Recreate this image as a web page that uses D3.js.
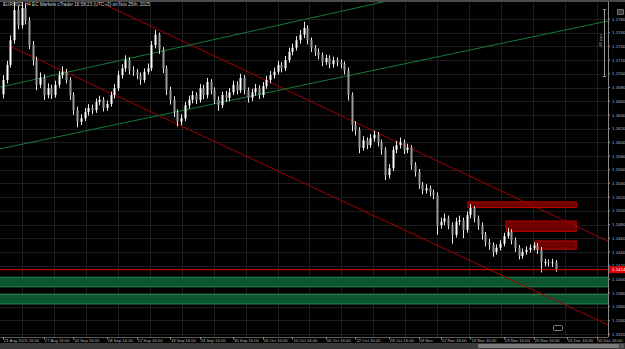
<!DOCTYPE html>
<html><head><meta charset="utf-8">
<script src="https://cdn.jsdelivr.net/npm/d3@7"></script>
<style>html,body{margin:0;padding:0;background:#000;overflow:hidden}text{font-family:"Liberation Sans",Arial,sans-serif}</style>
</head><body><svg id="c" width="625" height="349"></svg>
<script>
const title = "EURUSD, H4 EC Markets cTrader 16:58:23 (UTC+3) on Nov 25th, 2025";
const firstOpen = 1.1670;
const closes = [1.1691,1.1713,1.1749,1.1793,1.1771,1.1796,1.1778,1.1742,1.1720,1.1684,
 1.1694,1.1669,1.1679,1.1669,1.1684,1.1698,1.1703,1.1691,1.1669,1.1647,
 1.1630,1.1635,1.1644,1.1650,1.1647,1.1659,1.1662,1.1650,1.1656,1.1669,
 1.1679,1.1698,1.1708,1.1720,1.1705,1.1703,1.1698,1.1691,1.1703,1.1708,
 1.1742,1.1757,1.1735,1.1708,1.1676,1.1662,1.1644,1.1630,1.1635,1.1654,
 1.1662,1.1669,1.1662,1.1679,1.1669,1.1688,1.1676,1.1662,1.1654,1.1669,
 1.1665,1.1673,1.1684,1.1676,1.1694,1.1676,1.1665,1.1673,1.1679,1.1669,
 1.1682,1.1691,1.1698,1.1703,1.1713,1.1708,1.1720,1.1732,1.1738,1.1749,
 1.1757,1.1767,1.1749,1.1738,1.1732,1.1727,1.1717,1.1723,1.1714,1.1720,
 1.1717,1.1714,1.1705,1.1669,1.1625,1.1618,1.1592,1.1603,1.1596,1.1606,
 1.1611,1.1600,1.1589,1.1552,1.1562,1.1589,1.1596,1.1600,1.1589,1.1592,
 1.1567,1.1557,1.1538,1.1530,1.1533,1.1527,1.1523,1.1479,1.1484,1.1489,
 1.1479,1.1465,1.1484,1.1486,1.1472,1.1494,1.1504,1.1489,1.1479,1.1465,
 1.1454,1.1450,1.1440,1.1446,1.1452,1.1463,1.1469,1.1457,1.1446,1.1434,
 1.1440,1.1443,1.1446,1.1449,1.1443,1.1424,1.1425,1.1424,1.1425,1.1414];
const highs = [1.1698,1.1719,1.1756,1.1805,1.1799,1.1808,1.1802,1.1783,1.1748,1.1725,
 1.1702,1.1699,1.1686,1.1684,1.1690,1.1704,1.1711,1.1707,1.1695,1.1673,
 1.1652,1.1641,1.1650,1.1656,1.1655,1.1664,1.1668,1.1666,1.1661,1.1674,
 1.1685,1.1704,1.1714,1.1727,1.1724,1.1711,1.1707,1.1702,1.1708,1.1715,
 1.1748,1.1764,1.1760,1.1739,1.1712,1.1681,1.1667,1.1648,1.1641,1.1659,
 1.1668,1.1675,1.1673,1.1685,1.1684,1.1694,1.1692,1.1680,1.1667,1.1674,
 1.1675,1.1679,1.1690,1.1689,1.1700,1.1698,1.1680,1.1678,1.1685,1.1683,
 1.1688,1.1697,1.1704,1.1709,1.1719,1.1717,1.1726,1.1738,1.1744,1.1755,
 1.1764,1.1776,1.1771,1.1753,1.1742,1.1737,1.1731,1.1728,1.1727,1.1725,
 1.1724,1.1721,1.1718,1.1709,1.1673,1.1631,1.1622,1.1609,1.1607,1.1612,
 1.1617,1.1615,1.1604,1.1593,1.1568,1.1594,1.1602,1.1607,1.1604,1.1598,
 1.1596,1.1571,1.1561,1.1542,1.1539,1.1537,1.1531,1.1527,1.1490,1.1496,
 1.1493,1.1483,1.1490,1.1493,1.1490,1.1499,1.1510,1.1507,1.1493,1.1483,
 1.1469,1.1459,1.1454,1.1451,1.1457,1.1468,1.1475,1.1473,1.1461,1.1450,
 1.1445,1.1448,1.1451,1.1454,1.1453,1.1447,1.1430,1.1429,1.1430,1.1428];
const lows = [1.1664,1.1686,1.1709,1.1744,1.1765,1.1766,1.1772,1.1736,1.1712,1.1676,
 1.1679,1.1662,1.1664,1.1663,1.1665,1.1680,1.1693,1.1686,1.1662,1.1640,
 1.1622,1.1625,1.1631,1.1639,1.1641,1.1643,1.1654,1.1645,1.1646,1.1652,
 1.1664,1.1675,1.1693,1.1703,1.1699,1.1697,1.1692,1.1684,1.1687,1.1699,
 1.1704,1.1737,1.1729,1.1701,1.1669,1.1655,1.1637,1.1623,1.1625,1.1631,
 1.1649,1.1657,1.1656,1.1658,1.1663,1.1664,1.1670,1.1656,1.1646,1.1650,
 1.1659,1.1660,1.1669,1.1670,1.1672,1.1670,1.1658,1.1660,1.1668,1.1663,
 1.1665,1.1678,1.1686,1.1693,1.1699,1.1702,1.1704,1.1716,1.1727,1.1734,
 1.1744,1.1752,1.1743,1.1732,1.1726,1.1721,1.1711,1.1713,1.1708,1.1709,
 1.1711,1.1708,1.1699,1.1661,1.1616,1.1610,1.1584,1.1588,1.1590,1.1592,
 1.1601,1.1594,1.1582,1.1545,1.1547,1.1558,1.1584,1.1591,1.1583,1.1584,
 1.1560,1.1550,1.1532,1.1524,1.1525,1.1521,1.1517,1.1465,1.1474,1.1479,
 1.1473,1.1452,1.1461,1.1479,1.1460,1.1468,1.1489,1.1483,1.1472,1.1458,
 1.1448,1.1443,1.1433,1.1436,1.1442,1.1448,1.1459,1.1451,1.1440,1.1429,
 1.1430,1.1436,1.1439,1.1442,1.1437,1.1410,1.1419,1.1419,1.1418,1.1411];
const priceTicks = [1.1780,1.1760,1.1740,1.1720,1.1700,1.1680,1.1660,1.1640,1.1620,1.1600,1.1580,1.1560,
 1.1540,1.1520,1.1500,1.1480,1.1460,1.1440,1.1420,1.1400,1.1380,1.1360,1.1340,1.1320];
const timeLabels = ["21 Aug 2025 16:00","27 Aug 16:00","02 Sep 16:00","08 Sep 16:00","12 Sep 16:00","18 Sep 16:00",
 "24 Sep 16:00","30 Sep 16:00","06 Oct 16:00","10 Oct 16:00","16 Oct 16:00","22 Oct 16:00","28 Oct 16:00",
 "03 Nov","07 Nov 16:00","13 Nov 16:00","19 Nov 16:00","25 Nov 16:00","01 Dec 16:00","05 Dec 16:00"];
const timeTickBars = [0,11,19,28,36,45,53,62,70,78,87,95,104,112,118,126,135,143,152,160];
const currentPrice = 1.1414;
// [startBar, endBar, topPrice, bottomPrice]
const supplyZones = [[125.3,154.5,1.1513,1.1505],[135.6,154.5,1.1485,1.1470],[143.4,154.5,1.1456,1.1444]];
const demandZones = [[-2,170,1.1403,1.1389],[-2,170,1.1378,1.1364]];
// [[bar, price],[bar, price]]
const redChannel = [[[28.3,1.1799],[170,1.1438]],[[2.4,1.1739],[170,1.1316]]];
const greenChannel = [[[-2,1.1679],[110,1.1814]],[[-2,1.1589],[170,1.1785]]];
const rulerLabel = "-28 pips";

const W=625,H=349, plotR=608, plotB=337, plotT=2;
const svg=d3.select("#c");
svg.append("rect").attr("width",W).attr("height",H).attr("fill","#000");
const x=d3.scaleLinear().domain([0,149]).range([3,555.8]);
const y=d3.scaleLinear().domain([1.1780,1.1320]).range([19,334.1]);

svg.append("defs").append("clipPath").attr("id","pc").append("rect")
  .attr("x",0).attr("y",plotT).attr("width",plotR).attr("height",plotB-plotT);
const g=svg.append("g").attr("clip-path","url(#pc)");

// grid
g.selectAll(".hg").data(priceTicks).join("line").attr("x1",0).attr("x2",plotR)
 .attr("y1",d=>Math.round(y(d))+0.5).attr("y2",d=>Math.round(y(d))+0.5).attr("stroke","#1d1d1d").attr("stroke-width",1);
g.selectAll(".vg").data(d3.range(22,plotR,31.94)).join("line").attr("y1",plotT).attr("y2",plotB)
 .attr("x1",d=>Math.round(d)+0.5).attr("x2",d=>Math.round(d)+0.5).attr("stroke","#1d1d1d").attr("stroke-width",1);

// demand zones
g.selectAll(".dz").data(demandZones).join("rect")
 .attr("x",d=>x(d[0])).attr("width",d=>x(d[1])-x(d[0]))
 .attr("y",d=>y(d[2])).attr("height",d=>y(d[3])-y(d[2]))
 .attr("fill","#0d5530").attr("stroke","#1f8a4c").attr("stroke-width",1);
// supply zones
g.selectAll(".sz").data(supplyZones).join("rect")
 .attr("x",d=>x(d[0])).attr("width",d=>x(d[1])-x(d[0]))
 .attr("y",d=>y(d[2])).attr("height",d=>y(d[3])-y(d[2]))
 .attr("fill","#6e0000").attr("stroke","#c80000").attr("stroke-width",1);

// channel lines
const drawLines=(arr,col)=>g.selectAll(null).data(arr).join("line")
 .attr("x1",d=>x(d[0][0])).attr("y1",d=>y(d[0][1])).attr("x2",d=>x(d[1][0])).attr("y2",d=>y(d[1][1]))
 .attr("stroke",col).attr("stroke-width",1);
drawLines(redChannel,"#a00000");
drawLines(greenChannel,"#157a3c");

// candles
const candles=closes.map((c,i)=>({i,o:i?closes[i-1]:firstOpen,c,h:highs[i],l:lows[i]}));
const cg=g.append("g");
cg.selectAll("line").data(candles).join("line")
 .attr("x1",d=>Math.round(x(d.i))+0.5).attr("x2",d=>Math.round(x(d.i))+0.5)
 .attr("y1",d=>y(d.h)).attr("y2",d=>y(d.l)).attr("stroke","#e8e8e8").attr("stroke-width",1);
cg.selectAll("rect").data(candles).join("rect")
 .attr("x",d=>Math.round(x(d.i))-0.5).attr("width",2)
 .attr("y",d=>y(Math.max(d.o,d.c))).attr("height",d=>Math.max(1,Math.abs(y(d.o)-y(d.c))))
 .attr("fill",d=>d.c>=d.o?"#ffffff":"#9a9a9a");

// current price line
g.append("line").attr("x1",0).attr("x2",plotR).attr("y1",y(currentPrice)).attr("y2",y(currentPrice))
 .attr("stroke","#e00000").attr("stroke-width",1);

// frame & axes
svg.append("rect").attr("x",0).attr("y",0).attr("width",W).attr("height",2).attr("fill","#4a4a4a");
svg.append("text").attr("x",3).attr("y",6.2).attr("font-size",4.6).attr("fill","#d0d0d0").text(title);
svg.append("line").attr("x1",plotR+0.5).attr("x2",plotR+0.5).attr("y1",plotT).attr("y2",plotB).attr("stroke","#8a8a8a");
svg.append("line").attr("x1",0).attr("x2",plotR).attr("y1",plotB+0.5).attr("y2",plotB+0.5).attr("stroke","#5a5a5a");

svg.selectAll(".pl").data(priceTicks).join("text").attr("x",612).attr("y",d=>y(d)+1.6)
 .attr("font-size",4.4).attr("fill","#b8b8b8").text(d=>d.toFixed(4));
svg.selectAll(".pt").data(priceTicks).join("line").attr("x1",plotR).attr("x2",plotR+2)
 .attr("y1",d=>y(d)).attr("y2",d=>y(d)).attr("stroke","#8a8a8a");

// current price badge
svg.append("rect").attr("x",plotR+1).attr("y",y(currentPrice)-3.5).attr("width",W-plotR-1).attr("height",7).attr("fill","#e00000");
svg.append("text").attr("x",612).attr("y",y(currentPrice)+1.6).attr("font-size",4.4).attr("fill","#fff").text(currentPrice.toFixed(4));

// time axis
svg.selectAll(".tt").data(timeTickBars).join("line").attr("x1",d=>Math.round(x(d))+0.5).attr("x2",d=>Math.round(x(d))+0.5)
 .attr("y1",plotB).attr("y2",plotB+2.5).attr("stroke","#8a8a8a");
svg.selectAll(".tl").data(timeLabels).join("text").attr("x",(d,i)=>x(timeTickBars[i])+1).attr("y",341.8)
 .attr("font-size",4.2).attr("fill","#b8b8b8").text(d=>d);

// bottom scroll bar
svg.append("rect").attr("x",0).attr("y",343).attr("width",W).attr("height",6).attr("fill","#3a3a3a");
svg.append("rect").attr("x",478).attr("y",344).attr("width",141).attr("height",4).attr("fill","#7a7a7a");
svg.append("rect").attr("x",620).attr("y",344).attr("width",4).attr("height",4).attr("fill","#5a5a5a");

// ruler top-right
svg.append("line").attr("x1",604.5).attr("x2",604.5).attr("y1",9).attr("y2",77).attr("stroke","#9a9a9a");
svg.append("line").attr("x1",603).attr("x2",606).attr("y1",9.5).attr("y2",9.5).attr("stroke","#9a9a9a");
svg.append("line").attr("x1",603).attr("x2",606).attr("y1",76.5).attr("y2",76.5).attr("stroke","#9a9a9a");
svg.append("text").attr("transform","translate(602,48) rotate(-90)").attr("font-size",4).attr("fill","#b0b0b0").text(rulerLabel);
svg.append("rect").attr("x",617.5).attr("y",9.5).attr("width",6).attr("height",5).attr("fill","#3a3a3a").attr("stroke","#8a8a8a").attr("stroke-width",0.7);

// small marker at bottom
svg.append("rect").attr("x",553.5).attr("y",325.5).attr("width",9).attr("height",5).attr("rx",1).attr("fill","none").attr("stroke","#a0a0a0").attr("stroke-width",0.8);
</script></body></html>
